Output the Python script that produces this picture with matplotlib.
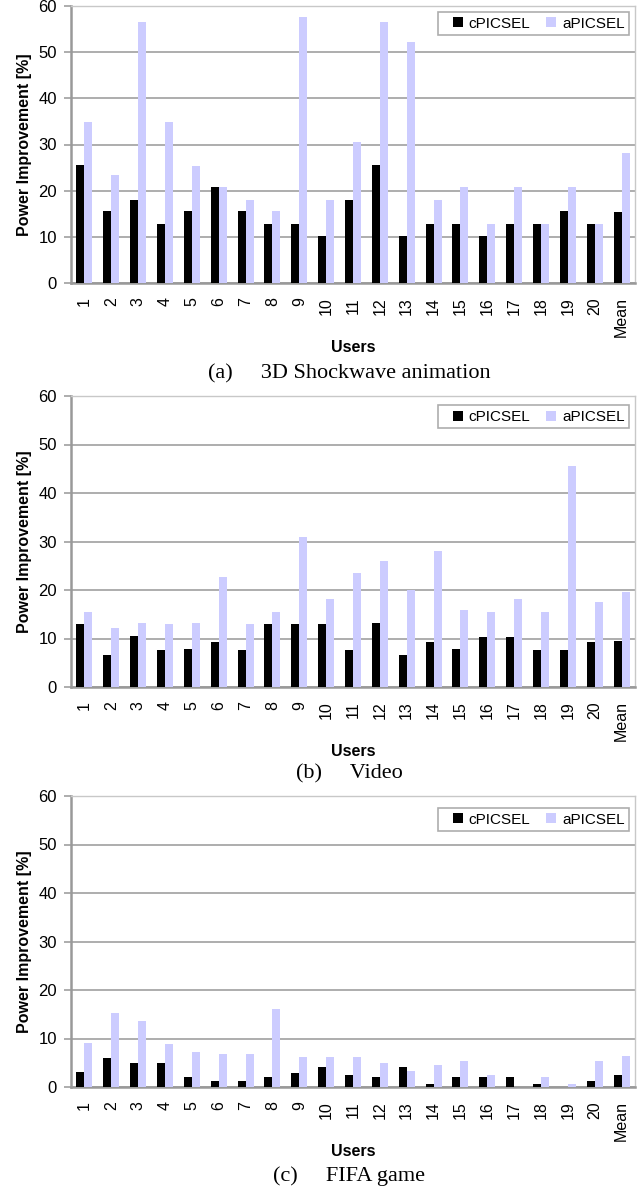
import matplotlib
matplotlib.use("Agg")
import matplotlib.pyplot as plt
from matplotlib.lines import Line2D
import numpy as np

categories = [str(i) for i in range(1, 21)] + ["Mean"]

shock_c = [25.5, 15.6, 18.0, 12.8, 15.6, 20.8, 15.6, 12.8, 12.8, 10.2, 18.0,
           25.5, 10.2, 12.8, 12.8, 10.2, 12.8, 12.8, 15.6, 12.8, 15.4]
shock_a = [34.8, 23.5, 56.6, 34.8, 25.3, 20.8, 18.0, 15.6, 57.7, 18.0, 30.5,
           56.6, 52.1, 18.0, 20.8, 12.8, 20.8, 12.8, 20.8, 12.8, 28.1]

video_c = [12.9, 6.5, 10.5, 7.6, 7.8, 9.2, 7.6, 12.9, 12.9, 12.9, 7.6,
           13.1, 6.5, 9.2, 7.8, 10.3, 10.3, 7.6, 7.6, 9.2, 9.4]
video_a = [15.4, 12.1, 13.1, 12.9, 13.1, 22.6, 12.9, 15.4, 30.9, 18.1, 23.5,
           25.9, 20.1, 28.0, 15.8, 15.4, 18.1, 15.4, 45.6, 17.5, 19.6]

fifa_c = [3.0, 6.0, 4.9, 4.9, 2.0, 1.2, 1.2, 2.0, 2.8, 4.1, 2.4,
          2.0, 4.1, 0.6, 2.0, 2.0, 2.0, 0.6, 0.0, 1.2, 2.4]
fifa_a = [9.1, 15.3, 13.6, 8.9, 7.2, 6.8, 6.8, 16.1, 6.2, 6.2, 6.2,
          4.9, 3.3, 4.5, 5.3, 2.4, 0.0, 2.0, 0.6, 5.3, 6.4]

series_names = ["cPICSEL", "aPICSEL"]
captions = ["(a)     3D Shockwave animation", "(b)     Video", "(c)     FIFA game"]
yticks = [0, 10, 20, 30, 40, 50, 60]

W, H = 642, 1188
fig = plt.figure(figsize=(W / 100, H / 100), dpi=100)

sans = "Liberation Sans"
serif = "Liberation Serif"
black = "#000000"
lav = "#CCCCFF"
grid_c = "#A0A0A0"

# pixel boxes: (top, bottom) of plotting area
boxes = [(6, 283), (396, 687), (796, 1087)]
cap_y = [374, 774, 1176]
leg_top = [0.978, 0.968, 0.958]
left_px, right_px = 71, 635

data = [(shock_c, shock_a), (video_c, video_a), (fifa_c, fifa_a)]
x = np.arange(len(categories))
bw = 0.3

for (top, bot), (c_vals, a_vals), cap, cy, lt in zip(boxes, data, captions, cap_y, leg_top):
    ax = fig.add_axes([left_px / W, 1 - bot / H, (right_px - left_px) / W, (bot - top) / H])
    ax.bar(x - bw / 2, c_vals, width=bw, color=black, label=series_names[0], zorder=3)
    ax.bar(x + bw / 2, a_vals, width=bw, color=lav, label=series_names[1], zorder=3)
    ax.set_xlim(-0.5, len(categories) - 0.5)
    ax.set_ylim(0, 60)
    ax.set_yticks(yticks)
    ax.set_yticklabels([str(t) for t in yticks], fontfamily=sans, fontsize=12)
    ax.yaxis.grid(True, color=grid_c, linewidth=1.2, zorder=0)
    ax.set_axisbelow(True)
    ax.set_xticks(x)
    ax.set_xticklabels(categories, rotation=90, fontfamily=sans, fontsize=11.5)
    ax.tick_params(axis="x", length=0, pad=10)
    ax.tick_params(axis="y", length=5, width=1.2, color=grid_c, pad=5)
    for side in ["top", "right"]:
        ax.spines[side].set_color("#C8C8C8")
        ax.spines[side].set_linewidth(1.0)
    for side in ["left", "bottom"]:
        ax.spines[side].set_color("#999999")
        ax.spines[side].set_linewidth(1.8)
    ax.set_ylabel("Power Improvement [%]", fontfamily=sans, fontweight="bold", fontsize=11.5, labelpad=5)
    ax.set_xlabel("Users", fontfamily=sans, fontweight="bold", fontsize=11.5, labelpad=2)
    handles = [Line2D([], [], marker="s", linestyle="none", color=c, markersize=7.5,
                      markeredgewidth=0) for c in (black, lav)]
    leg = ax.legend(handles, series_names, loc="upper right", ncol=2, frameon=True, fancybox=False,
                    prop={"family": sans, "size": 11}, handlelength=2.0,
                    handletextpad=-0.3, columnspacing=0.4, borderpad=0.3,
                    bbox_to_anchor=(0.99, lt), borderaxespad=0.0)
    leg.get_frame().set_edgecolor("#999999")
    leg.get_frame().set_linewidth(1.2)
    fig.text(349 / W, 1 - cy / H, cap, ha="center", va="center", fontfamily=serif, fontsize=16)

fig.savefig("out.png", dpi=100)
